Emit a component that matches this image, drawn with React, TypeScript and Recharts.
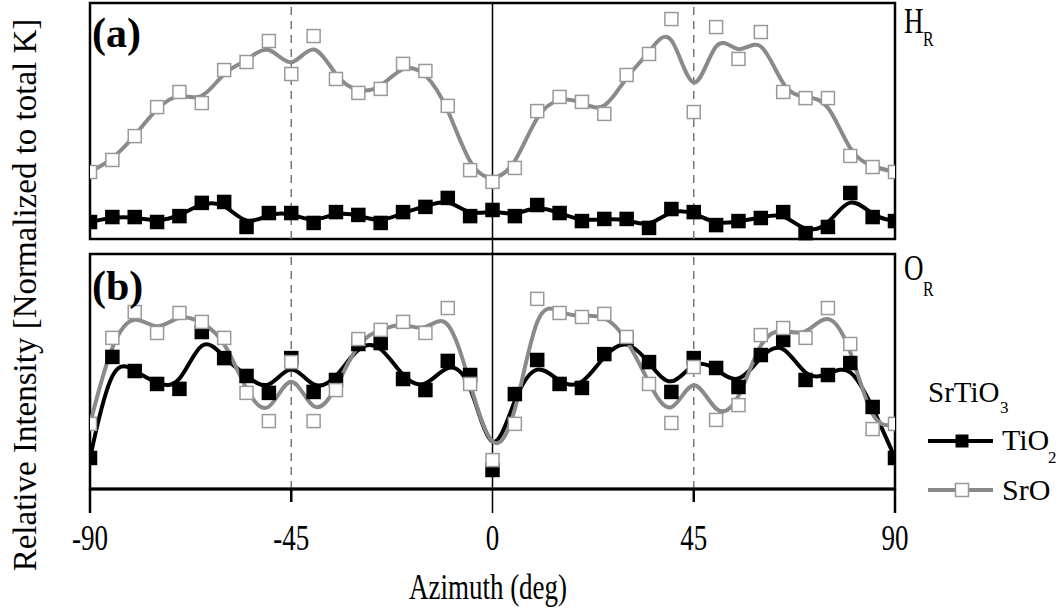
import { LineChart, Line, XAxis, YAxis, ReferenceLine, ReferenceArea } from "recharts";

// azimuth angles (deg), one marker every 5 deg
const angles = [
  -90, -85, -80, -75, -70, -65, -60, -55, -50, -45, -40, -35, -30, -25, -20, -15, -10, -5, 0,
  5, 10, 15, 20, 25, 30, 35, 40, 45, 50, 55, 60, 65, 70, 75, 80, 85, 90,
];

// panel (a) H_R, relative intensity (0 = panel floor, 100 = panel top)
const hrSrO = [
  28.4, 33.5, 43.6, 55.9, 62.3, 57.6, 71.6, 75.0, 83.9, 69.9, 86.0, 67.8, 61.9, 63.6, 74.2, 71.2, 56.4, 29.2, 24.2,
  30.1, 54.2, 60.2, 58.1, 53.0, 69.5, 78.4, 93.2, 53.8, 89.8, 76.3, 87.7, 62.3, 59.7, 59.7, 35.2, 30.5, 28.4,
];
const hrTiO2 = [
  7.2, 9.3, 9.3, 7.2, 9.7, 15.3, 15.7, 5.1, 11.0, 11.0, 6.8, 11.4, 10.2, 6.8, 11.4, 13.6, 17.4, 9.7, 12.3,
  9.7, 14.4, 11.0, 7.6, 8.5, 8.5, 4.7, 12.7, 11.4, 5.9, 7.6, 8.9, 11.4, 2.5, 5.1, 19.5, 9.3, 7.6,
];

// panel (b) O_R
const orSrO = [
  27.7, 64.3, 75.3, 66.4, 74.9, 71.1, 64.3, 40.9, 28.9, 54.0, 28.9, 42.1, 63.8, 67.7, 71.1, 66.4, 77.0, 44.7, 12.3,
  27.7, 80.9, 74.9, 73.2, 74.5, 64.7, 44.7, 28.1, 51.9, 29.4, 35.7, 65.5, 68.5, 64.3, 77.0, 61.7, 25.5, 27.7,
];
const orTiO2 = [
  13.2, 56.2, 50.2, 44.7, 42.6, 66.8, 55.7, 48.1, 40.9, 55.7, 41.3, 46.4, 61.7, 62.1, 46.8, 42.1, 54.5, 48.5, 8.1,
  40.4, 54.9, 44.7, 43.0, 57.4, 64.3, 54.0, 41.3, 55.7, 51.5, 43.4, 57.0, 63.4, 46.4, 48.5, 53.6, 34.9, 13.2,
];

const xTicks = [-90, -45, 0, 45, 90];

const data = angles.map((a, i) => ({
  az: a,
  hrSrO: hrSrO[i],
  hrTiO2: hrTiO2[i],
  orSrO: orSrO[i],
  orTiO2: orTiO2[i],
}));

const FONT = "'Liberation Serif', 'Times New Roman', serif";
const GRAY = "#8a8a8a";

const square = (fill: string, stroke: string) => (props: any) => {
  const { cx, cy, index } = props;
  if (cx == null || cy == null) return <g key={index} />;
  return (
    <rect
      key={index}
      x={cx - 6.5}
      y={cy - 6.5}
      width={13}
      height={13}
      fill={fill}
      stroke={stroke}
      strokeWidth={1.5}
    />
  );
};

const AzTick = (props: any) => {
  const { x, y, payload } = props;
  const v = payload.value;
  const len = v === 45 || v === -45 ? 13 : 24;
  const w = v === 0 ? 1.5 : 2.5;
  return (
    <g>
      <line x1={x} x2={x} y1={y} y2={y + len} stroke="#000" strokeWidth={w} />
      <text
        transform={`translate(${x},${y + 61}) scale(1,1.3)`}
        textAnchor="middle"
        fontFamily={FONT}
        fontSize={27}
        fill="#000"
      >
        {v}
      </text>
    </g>
  );
};

export default function App() {
  return (
    <div style={{ position: "absolute", left: 0, top: 0, width: 1060, height: 609, background: "#fff" }}>
      <LineChart
        width={1060}
        height={609}
        data={data}
        margin={{ top: 3, right: 165, bottom: 40, left: 90 }}
      >
        <XAxis
          dataKey="az"
          type="number"
          domain={[-90, 90]}
          ticks={xTicks}
          allowDataOverflow
          height={80}
          tickSize={0}
          tickMargin={0}
          tickLine={false}
          axisLine={{ stroke: "#000", strokeWidth: 3 }}
          tick={<AzTick />}
        />
        <YAxis yAxisId="a" hide type="number" domain={[-105.93, 100]} allowDataOverflow />
        <YAxis yAxisId="b" hide type="number" domain={[0, 206.8]} allowDataOverflow />

        <ReferenceLine
          yAxisId="a"
          segment={[{ x: -45, y: 0 }, { x: -45, y: 100 }]}
          stroke="#777"
          strokeWidth={1.5}
          strokeDasharray="8 6"
        />
        <ReferenceLine
          yAxisId="a"
          segment={[{ x: 45, y: 0 }, { x: 45, y: 100 }]}
          stroke="#777"
          strokeWidth={1.5}
          strokeDasharray="8 6"
        />
        <ReferenceLine
          yAxisId="b"
          segment={[{ x: -45, y: 0 }, { x: -45, y: 100 }]}
          stroke="#777"
          strokeWidth={1.5}
          strokeDasharray="8 6"
        />
        <ReferenceLine
          yAxisId="b"
          segment={[{ x: 45, y: 0 }, { x: 45, y: 100 }]}
          stroke="#777"
          strokeWidth={1.5}
          strokeDasharray="8 6"
        />
        <ReferenceLine yAxisId="a" x={0} stroke="#000" strokeWidth={1.5} />

        <ReferenceArea yAxisId="a" x1={-90} x2={90} y1={0} y2={100} fill="none" stroke="#000" strokeWidth={2.5} />
        <ReferenceArea yAxisId="b" x1={-90} x2={90} y1={0} y2={100} fill="none" stroke="#000" strokeWidth={2.5} />

        <Line
          yAxisId="a"
          dataKey="hrTiO2"
          type="basis"
          stroke="#000"
          strokeWidth={4}
          dot={square("#000", "#000")}
          isAnimationActive={false}
        />
        <Line
          yAxisId="a"
          dataKey="hrSrO"
          type="basis"
          stroke={GRAY}
          strokeWidth={4}
          dot={square("#fff", "#999")}
          isAnimationActive={false}
        />
        <Line
          yAxisId="b"
          dataKey="orTiO2"
          type="basis"
          stroke="#000"
          strokeWidth={4}
          dot={square("#000", "#000")}
          isAnimationActive={false}
        />
        <Line
          yAxisId="b"
          dataKey="orSrO"
          type="basis"
          stroke={GRAY}
          strokeWidth={4}
          dot={square("#fff", "#999")}
          isAnimationActive={false}
        />
      </LineChart>

      <svg
        width={1060}
        height={609}
        style={{ position: "absolute", left: 0, top: 0, pointerEvents: "none" }}
        fontFamily={FONT}
      >
        <text x={92} y={47} fontSize={42} fontWeight="bold">(a)</text>
        <text x={92} y={300} fontSize={42} fontWeight="bold">(b)</text>

        <text transform="translate(904,33) scale(1,1.3)" fontSize={27}>H</text>
        <text transform="translate(923,46) scale(1,1.3)" fontSize={16}>R</text>
        <text transform="translate(904,280) scale(1,1.3)" fontSize={27}>O</text>
        <text transform="translate(923,296) scale(1,1.3)" fontSize={16}>R</text>

        <text transform="translate(36,295) rotate(-90)" textAnchor="middle" fontSize={33}>
          Relative Intensity [Normalized to total K]
        </text>
        <text transform="translate(488,599) scale(1,1.3)" textAnchor="middle" fontSize={27}>
          Azimuth (deg)
        </text>

        {/* legend */}
        <text x={928} y={402} fontSize={29}>SrTiO</text>
        <text x={1000} y={413} fontSize={17}>3</text>

        <line x1={928} x2={993} y1={441} y2={441} stroke="#000" strokeWidth={4} />
        <rect x={955.5} y={434.5} width={13} height={13} fill="#000" />
        <text x={1002} y={450} fontSize={30}>TiO</text>
        <text x={1048} y={463} fontSize={17}>2</text>

        <line x1={928} x2={993} y1={490} y2={490} stroke={GRAY} strokeWidth={4} />
        <rect x={955.5} y={483.5} width={13} height={13} fill="#fff" stroke="#999" strokeWidth={1.5} />
        <text x={1002} y={500} fontSize={30}>SrO</text>
      </svg>
    </div>
  );
}
